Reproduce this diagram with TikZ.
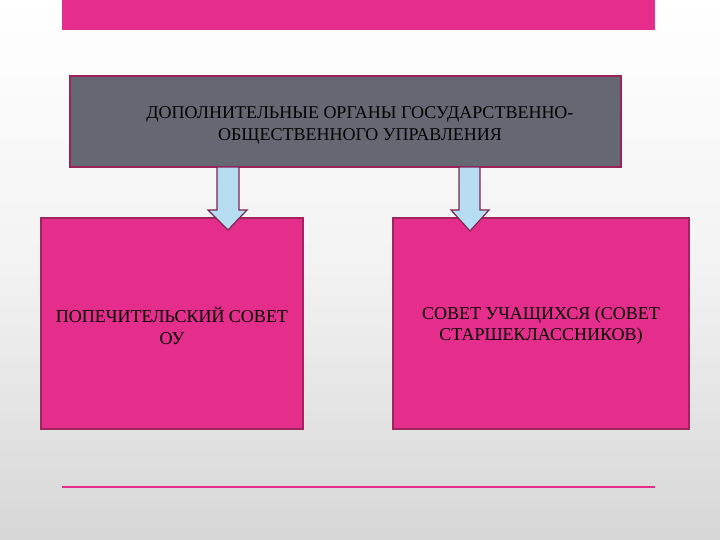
\documentclass[tikz,border=0pt]{standalone}
\usepackage{fontspec}
\setmainfont{Liberation Serif}
\begin{document}
\begin{tikzpicture}[x=1pt,y=-1pt,
  pinkbox/.style={draw=pinkedge,fill=pinkfill,line width=1.2pt,inner sep=0pt},
  label/.style={align=center,text=black,font=\fontsize{18}{21.5}\selectfont},
  arrowshape/.style={draw=arrowedge,fill=arrowfill,line width=1.2pt,line join=miter}]
\definecolor{pinkfill}{HTML}{E52D8C}
\definecolor{pinkedge}{HTML}{A0245E}
\definecolor{grayfill}{HTML}{656872}
\definecolor{grayedge}{HTML}{9A2258}
\definecolor{arrowfill}{HTML}{B7DDF2}
\definecolor{arrowedge}{HTML}{7E2550}
\useasboundingbox (0,0) rectangle (720,540);
\shade[top color=white,bottom color=black!16,middle color=black!5] (0,0) rectangle (720,540);
% top bar
\fill[pinkfill] (62,0) rectangle (655,30);
% header box
\node[draw=grayedge,fill=grayfill,line width=1.2pt,minimum width=551pt,minimum height=91pt,inner sep=0pt] (head) at (345.5,121.5) {};
\node[label] (headtext) at (360,125.5) {ДОПОЛНИТЕЛЬНЫЕ ОРГАНЫ ГОСУДАРСТВЕННО-\\ОБЩЕСТВЕННОГО УПРАВЛЕНИЯ};
% boxes
\node[pinkbox,minimum width=262pt,minimum height=211pt] (left) at (172,323.5) {};
\node[label] (lefttext) at (172,326) {ПОПЕЧИТЕЛЬСКИЙ СОВЕТ\\ОУ};
\node[pinkbox,minimum width=296pt,minimum height=211pt] (right) at (541,323.5) {};
\node[label] (righttext) at (541,325.5) {СОВЕТ УЧАЩИХСЯ (СОВЕТ\\СТАРШЕКЛАССНИКОВ)};
% arrows
\draw[arrowshape] (217,167) -- (239,167) -- (239,210) -- (247,210) -- (228,230) -- (208,210) -- (217,210) -- cycle;
\draw[arrowshape] (459,167) -- (480,167) -- (480,210) -- (489,210) -- (470,231) -- (451,210) -- (459,210) -- cycle;
% bottom line
\coordinate (l1) at (62,487);
\coordinate (l2) at (655,487);
\draw[pinkfill,line width=1.5pt] (l1) -- (l2);
\end{tikzpicture}
\end{document}
